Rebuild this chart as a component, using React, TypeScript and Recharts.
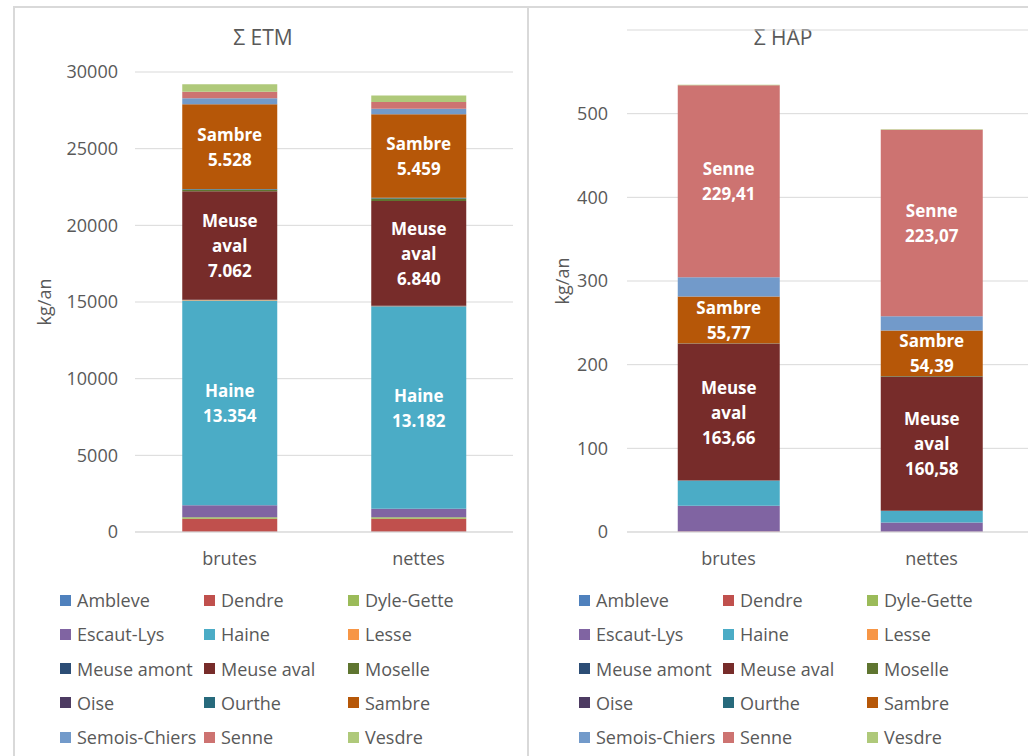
import React from "react";
import {
  BarChart,
  Bar,
  XAxis,
  YAxis,
  CartesianGrid,
  LabelList,
} from "recharts";

const categories = ["brutes", "nettes"];

const rivers = [
  "Ambleve",
  "Dendre",
  "Dyle-Gette",
  "Escaut-Lys",
  "Haine",
  "Lesse",
  "Meuse amont",
  "Meuse aval",
  "Moselle",
  "Oise",
  "Ourthe",
  "Sambre",
  "Semois-Chiers",
  "Senne",
  "Vesdre",
];

const riverColors = [
  "#4F81BD",
  "#C0504D",
  "#9BBB59",
  "#8064A2",
  "#4BACC6",
  "#F79646",
  "#2C4D75",
  "#772C2A",
  "#5F7530",
  "#4D3B62",
  "#276A7C",
  "#B65708",
  "#729ACA",
  "#CD7371",
  "#AFC97A",
];

// Σ ETM (kg/an), same order as rivers
const etmBrutes = [20, 850, 100, 780, 13354, 20, 30, 7062, 110, 10, 40, 5528, 390, 410, 500];
const etmNettes = [20, 850, 100, 550, 13182, 20, 30, 6840, 150, 10, 40, 5459, 350, 440, 430];

// Σ HAP (kg/an)
const hapBrutes = [0, 0.5, 0, 31, 30, 0, 0, 163.66, 0.5, 0, 0, 55.77, 23, 229.41, 0.6];
const hapNettes = [0, 0.3, 0, 11, 14, 0, 0, 160.58, 0.5, 0, 0, 54.39, 17, 223.07, 0.6];

const etmTicks = [0, 5000, 10000, 15000, 20000, 25000, 30000];
const hapTicks = [0, 100, 200, 300, 400, 500];

const etmLabelled = ["Haine", "Meuse aval", "Sambre"];
const hapLabelled = ["Meuse aval", "Sambre", "Senne"];

const buildRows = (series: number[][]) =>
  categories.map((name, ci) => {
    const row: Record<string, any> = { name };
    rivers.forEach((r, i) => {
      row[r] = series[ci][i];
    });
    return row;
  });

const etmData = buildRows([etmBrutes, etmNettes]);
const hapData = buildRows([hapBrutes, hapNettes]);

const FONT = "'Open Sans', sans-serif";
const GREY = "#595959";
const GRID = "#d9d9d9";

const fmtEtm = (v: number) => v.toLocaleString("de-DE");
const fmtHap = (v: number) => v.toFixed(2).replace(".", ",");

const segmentLabel = (river: string, fmt: (v: number) => string) => (props: any) => {
  const vb = props.viewBox || {};
  const x = props.x ?? vb.x;
  const y = props.y ?? vb.y;
  const w = props.width ?? vb.width;
  const h = props.height ?? vb.height;
  const lines = [...river.split(" "), fmt(Number(props.value))];
  const cx = x + w / 2;
  const cy = y + h / 2;
  return (
    <text
      x={cx}
      y={cy}
      textAnchor="middle"
      fill="#fff"
      fontFamily={FONT}
      fontWeight={700}
      fontSize={17}
    >
      {lines.map((l, i) => (
        <tspan key={i} x={cx} y={cy + (i - (lines.length - 1) / 2) * 25} dominantBaseline="central">
          {l}
        </tspan>
      ))}
    </text>
  );
};

const tickStyle = { fill: GREY, fontSize: 18, fontFamily: FONT };

const Panel = ({
  data,
  ticks,
  domain,
  labelled,
  fmt,
  width,
  marginTop,
  marginRight,
  axisWidth,
  labelOffset,
  tickMargin,
}: any) => (
  <BarChart
    width={width}
    height={575}
    data={data}
    margin={{ top: marginTop, right: marginRight, left: 0, bottom: 0 }}
    barCategoryGap="25%"
  >
    <CartesianGrid vertical={false} stroke={GRID} />
    <XAxis
      dataKey="name"
      height={43}
      tickLine={false}
      axisLine={{ stroke: GRID }}
      tickMargin={14}
      tick={tickStyle}
    />
    <YAxis
      width={axisWidth}
      domain={domain}
      ticks={ticks}
      allowDataOverflow
      axisLine={false}
      tickLine={false}
      tickMargin={tickMargin}
      tick={tickStyle}
      label={{
        value: "kg/an",
        angle: -90,
        position: "insideLeft",
        offset: labelOffset,
        style: { textAnchor: "middle", fill: GREY, fontSize: 18, fontFamily: FONT },
      }}
    />
    {rivers.map((r, i) => (
      <Bar key={r} dataKey={r} stackId="a" fill={riverColors[i]} isAnimationActive={false}>
        {labelled.includes(r) && <LabelList dataKey={r} content={segmentLabel(r, fmt)} />}
      </Bar>
    ))}
  </BarChart>
);

const LegendBlock = ({ cols }: { cols: number[] }) => (
  <>
    {rivers.map((r, i) => {
      const row = Math.floor(i / 3);
      const col = i % 3;
      const cy = 600 + row * 34.3;
      return (
        <div
          key={r}
          style={{
            position: "absolute",
            left: cols[col],
            top: cy - 13,
            height: 26,
            display: "flex",
            alignItems: "center",
            fontFamily: FONT,
            fontSize: 18,
            color: GREY,
            whiteSpace: "nowrap",
          }}
        >
          <span
            style={{
              display: "inline-block",
              width: 11,
              height: 11,
              background: riverColors[i],
              marginRight: 6,
            }}
          />
          {r}
        </div>
      );
    })}
  </>
);

const App = () => (
  <div
    style={{
      position: "absolute",
      left: 0,
      top: 0,
      width: 1028,
      height: 756,
      overflow: "hidden",
      background: "#fff",
    }}
  >
    <div
      style={{
        position: "absolute",
        left: 13,
        top: 6,
        width: 512,
        height: 800,
        border: `2px solid ${GRID}`,
        borderBottom: "none",
      }}
    />
    <div
      style={{
        position: "absolute",
        left: 527,
        top: 6,
        width: 600,
        height: 800,
        borderTop: `2px solid ${GRID}`,
      }}
    />
    <div
      style={{
        position: "absolute",
        left: 163,
        top: 23,
        width: 200,
        textAlign: "center",
        fontFamily: FONT,
        fontSize: 21,
        color: GREY,
        lineHeight: "28px",
      }}
    >
      Σ ETM
    </div>
    <div
      style={{
        position: "absolute",
        left: 683,
        top: 23,
        width: 200,
        textAlign: "center",
        fontFamily: FONT,
        fontSize: 21,
        color: GREY,
        lineHeight: "28px",
      }}
    >
      Σ HAP
    </div>
    <div style={{ position: "absolute", left: 0, top: 0 }}>
      <Panel
        data={etmData}
        ticks={etmTicks}
        domain={[0, 30000]}
        labelled={etmLabelled}
        fmt={fmtEtm}
        width={530}
        marginTop={72}
        marginRight={17}
        axisWidth={135}
        labelOffset={45}
        tickMargin={11}
      />
    </div>
    <div style={{ position: "absolute", left: 527, top: 0 }}>
      <Panel
        data={hapData}
        ticks={hapTicks}
        domain={[0, 600]}
        labelled={hapLabelled}
        fmt={fmtHap}
        width={526}
        marginTop={30}
        marginRight={20}
        axisWidth={100}
        labelOffset={36}
        tickMargin={13}
      />
    </div>
    <LegendBlock cols={[60, 204, 348]} />
    <LegendBlock cols={[579, 723, 867]} />
  </div>
);

export default App;
